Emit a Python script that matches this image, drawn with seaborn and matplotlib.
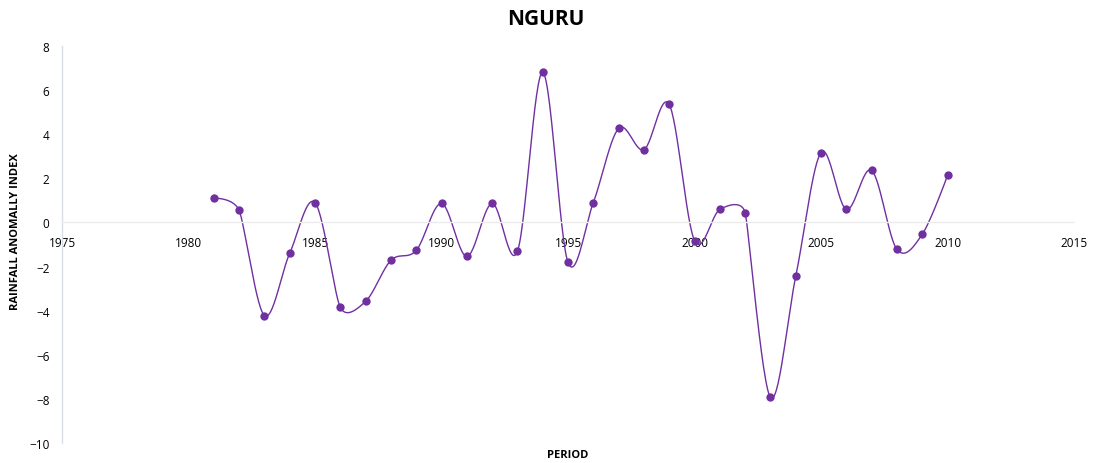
import numpy as np
import pandas as pd
import seaborn as sns
import matplotlib.pyplot as plt

years = list(range(1981, 2011))
rai = [1.1, 0.55, -4.22, -1.4, 0.9, -3.85, -3.58, -1.72, -1.27, 0.86,
       -1.54, 0.86, -1.31, 6.8, -1.81, 0.9, 4.26, 3.3, 5.35, -0.82,
       0.59, 0.45, -7.93, -2.45, 3.17, 0.59, 2.36, -1.22, -0.54, 2.13]
x_ticks = [1975, 1980, 1985, 1990, 1995, 2000, 2005, 2010, 2015]
y_ticks = [-10, -8, -6, -4, -2, 0, 2, 4, 6, 8]

df = pd.DataFrame({"year": years, "rai": rai})


# Excel-style smoothed line: bezier, tangent/6 capped at half the shorter neighbour segment
def smooth(x, y, n=30, sx=25.3, sy=22.06):
    p = np.column_stack([np.asarray(x, float) * sx, np.asarray(y, float) * sy])
    pad = np.vstack([p[0], p, p[-1]])
    tan = []
    for i in range(1, len(pad) - 1):
        v = pad[i + 1] - pad[i - 1]
        d02 = np.linalg.norm(v)
        d01 = np.linalg.norm(pad[i] - pad[i - 1])
        d12 = np.linalg.norm(pad[i + 1] - pad[i])
        f = 0.0 if d02 == 0 else min(1 / 6, d01 / (2 * d02), d12 / (2 * d02))
        tan.append(v * f)
    t = np.linspace(0, 1, n)[:, None]
    out = []
    for i in range(len(p) - 1):
        p0, p3 = p[i], p[i + 1]
        c1, c2 = p0 + tan[i], p3 - tan[i + 1]
        seg = ((1 - t) ** 3) * p0 + 3 * ((1 - t) ** 2) * t * c1 + 3 * (1 - t) * t ** 2 * c2 + t ** 3 * p3
        out.append(seg if i == 0 else seg[1:])
    c = np.vstack(out)
    return c[:, 0] / sx, c[:, 1] / sy


cx, cy = smooth(df["year"], df["rai"])
curve_df = pd.DataFrame({"year": cx, "rai": cy})

sns.set_style("white")
plt.rcParams["font.family"] = ["Open Sans", "DejaVu Sans"]
plt.rcParams["text.color"] = "black"

fig = plt.figure(figsize=(11.01, 4.64), dpi=100)
ax = fig.add_axes([0.0563, 0.0431, 0.9192, 0.8556])

purple = "#7030A0"
sns.lineplot(data=curve_df, x="year", y="rai", sort=False, estimator=None,
             color=purple, linewidth=1.0, ax=ax)
sns.scatterplot(data=df, x="year", y="rai", color=purple, s=36,
                edgecolor=purple, linewidth=0, zorder=3, ax=ax)

ax.set_xlim(1975, 2015)
ax.set_ylim(-10, 8)
ax.set_xticks(x_ticks)
ax.set_yticks(y_ticks)
ax.tick_params(axis="both", length=0, labelsize=8.5, labelcolor="black")
ax.tick_params(axis="y", pad=9)
ax.tick_params(axis="x", pad=10)

for s in ["top", "right"]:
    ax.spines[s].set_visible(False)
ax.spines["bottom"].set_position(("data", 0))
ax.spines["bottom"].set_color("#EBEBEB")
ax.spines["bottom"].set_linewidth(1.0)
ax.spines["left"].set_color("#D9DEE8")
ax.spines["left"].set_linewidth(1.0)

ax.set_xlabel("")
ax.set_ylabel("")
fig.text(0.516, 0.019, "PERIOD", ha="center", va="center",
         fontsize=8, fontweight="bold", color="black")
fig.text(0.014, 0.5, "RAINFALL ANOMALLY INDEX", ha="center", va="center",
         rotation=90, fontsize=8, fontweight="bold", color="black")
fig.text(0.496, 0.958, "NGURU", ha="center", va="center",
         fontsize=15, fontweight="bold", color="black")

fig.savefig("out.png", dpi=100)
